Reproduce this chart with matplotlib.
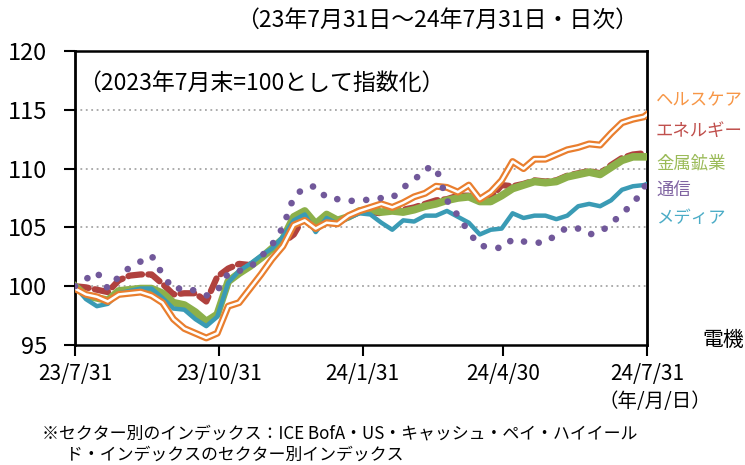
import matplotlib
matplotlib.use("Agg")
import matplotlib.pyplot as plt
import pandas as pd

plt.rcParams['font.family'] = ['Noto Sans CJK JP', 'DejaVu Sans']

# weekly sample dates (2023-07-31 .. 2024-07-29) plus final day
dates = list(pd.date_range('2023-07-31', periods=53, freq='7D')) + [pd.Timestamp('2024-07-31')]

healthcare = [99.8, 99.3, 99.1, 98.7, 99.3, 99.4, 99.5, 99.2, 98.6, 97.2,
              96.4, 96.0, 95.6, 96.0, 98.3, 98.6, 99.8, 101.0, 102.3, 103.4,
              105.2, 105.6, 104.9, 105.4, 105.3, 106.0, 106.4, 106.7, 107.0, 106.7,
              107.1, 107.6, 107.9, 108.5, 108.4, 108.0, 108.6, 107.4, 108.0, 109.0,
              110.6, 110.0, 110.8, 110.8, 111.2, 111.6, 111.8, 112.1, 112.0, 113.0,
              113.9, 114.2, 114.4, 114.6]
energy = [100.0, 99.9, 99.7, 99.5, 100.5, 100.9, 101.0, 101.0, 100.2, 99.3,
          99.4, 99.4, 98.7, 100.8, 101.5, 101.9, 101.8, 102.4, 103.1, 103.7,
          104.4, 106.0, 105.0, 105.9, 105.6, 105.9, 106.3, 106.3, 106.2, 106.5,
          106.5, 106.7, 107.0, 107.3, 107.4, 107.7, 107.7, 107.2, 107.5, 108.6,
          108.5, 108.7, 109.0, 108.9, 109.0, 109.4, 109.6, 109.8, 109.6, 110.3,
          110.9, 111.2, 111.3, 111.3]
metals = [100.0, 99.2, 99.0, 98.8, 99.6, 99.7, 99.8, 99.8, 99.4, 98.6,
          98.4, 97.8, 97.0, 97.6, 100.4, 101.1, 101.7, 102.4, 103.2, 104.0,
          105.9, 106.4, 105.3, 106.1, 105.6, 105.9, 106.4, 106.5, 106.3, 106.4,
          106.3, 106.5, 106.8, 107.0, 107.3, 107.5, 107.6, 107.2, 107.2, 107.7,
          108.3, 108.6, 108.9, 108.8, 108.9, 109.3, 109.5, 109.7, 109.5, 110.1,
          110.7, 111.0, 111.0, 111.0]
telecom = [100.0, 100.6, 101.2, 99.8, 100.8, 101.6, 102.1, 102.6, 101.0, 99.7,
           99.9, 99.6, 99.2, 99.6, 101.1, 101.3, 101.6, 102.5, 103.5, 105.0,
           107.6, 108.4, 108.5, 107.5, 107.4, 107.2, 107.4, 107.3, 107.5, 107.5,
           108.4, 109.0, 110.0, 110.1, 107.3, 106.0, 104.6, 103.4, 103.4, 103.2,
           104.0, 103.8, 103.7, 103.7, 104.4, 105.0, 104.9, 104.4, 104.6, 105.3,
           106.2, 107.0, 108.3, 109.0]
media = [100.0, 98.9, 98.3, 98.5, 99.4, 99.6, 99.8, 99.8, 99.0, 98.1,
         98.0, 97.2, 96.6, 97.4, 100.3, 101.3, 101.9, 102.6, 103.2, 104.2,
         105.6, 106.1, 104.6, 105.8, 105.3, 105.8, 106.2, 106.1, 105.4, 104.8,
         105.6, 105.5, 106.0, 106.0, 106.4, 105.9, 105.4, 104.4, 104.8, 104.9,
         106.2, 105.8, 106.0, 106.0, 105.7, 106.0, 106.8, 107.0, 106.8, 107.3,
         108.2, 108.5, 108.6, 108.7]

labels = ['ヘルスケア', 'エネルギー', '金属鉱業', '通信', 'メディア']
label_colors = ['#F79646', '#C0504D', '#9BBB59', '#8064A2', '#4BACC6']
xtick_dates = ['2023-07-31', '2023-10-31', '2024-01-31', '2024-04-30', '2024-07-31']
xtick_labels = ['23/7/31', '23/10/31', '24/1/31', '24/4/30', '24/7/31']
yticks = [95, 100, 105, 110, 115, 120]

fig = plt.figure(figsize=(7.45, 4.65), dpi=100)
ax = fig.add_axes([75/745, 1-345/465, (647-75)/745, (345-51)/465])

ax.plot(dates, energy, color='#B0413E', lw=4.5, linestyle=(0, (2.2, 1.0)),
        dash_capstyle='round', solid_capstyle='round', zorder=3)
ax.plot(dates, metals, color='#8CB04A', lw=5.5, solid_joinstyle='round', zorder=4)
ax.plot(dates, media, color='#3A9BB5', lw=3.2, solid_joinstyle='round', zorder=5)
ax.plot(dates, healthcare, color='#E97E2E', lw=5.0, solid_joinstyle='round', zorder=6)
ax.plot(dates, healthcare, color='white', lw=1.8, solid_joinstyle='round', zorder=7)
ax.plot(dates, telecom, color='#71589A', lw=4.8, linestyle=(0, (0.01, 2.2)),
        dash_capstyle='round', zorder=8)

ax.set_xlim(pd.Timestamp('2023-07-31'), pd.Timestamp('2024-07-31'))
ax.set_ylim(95, 120)
ax.set_yticks(yticks)
ax.set_yticklabels([str(v) for v in yticks])
ax.set_xticks([pd.Timestamp(d) for d in xtick_dates])
ax.set_xticklabels(xtick_labels)
ax.tick_params(axis='both', direction='out', length=8, width=1.5, colors='black')
ax.tick_params(axis='x', pad=5, labelsize=15)
ax.tick_params(axis='y', pad=12, labelsize=17)

for v in [100, 105, 110, 115]:
    ax.axhline(v, color='#A6A6A6', lw=1.3, linestyle=(0, (1, 2)), zorder=1)

for side in ['left', 'right']:
    ax.spines[side].set_linewidth(2)
for side in ['top', 'bottom']:
    ax.spines[side].set_linewidth(1.8)

ax.text(0.005, 0.89, '（2023年7月末=100として指数化）', transform=ax.transAxes,
        fontsize=16.5, va='center', ha='left')
fig.text(437/745, 1-20/465, '（23年7月31日～24年7月31日・日次）', fontsize=16.5,
         ha='center', va='center')

label_y = [100, 131, 163, 190, 218]
for lab, col, py in zip(labels, label_colors, label_y):
    fig.text(656/745, 1-py/465, lab, color=col, fontsize=12.5, ha='left', va='center')

fig.text(702/745, 1-340/465, '電機', fontsize=15, ha='left', va='center')
fig.text(655/745, 1-401/465, '（年/月/日）', fontsize=14, ha='center', va='center')
fig.text(42/745, 1-433/465, '※セクター別のインデックス：ICE BofA・US・キャッシュ・ペイ・ハイイール',
         fontsize=12.2, ha='left', va='center')
fig.text(66/745, 1-455/465, 'ド・インデックスのセクター別インデックス',
         fontsize=12.2, ha='left', va='center')

fig.savefig('out.png', dpi=100)
